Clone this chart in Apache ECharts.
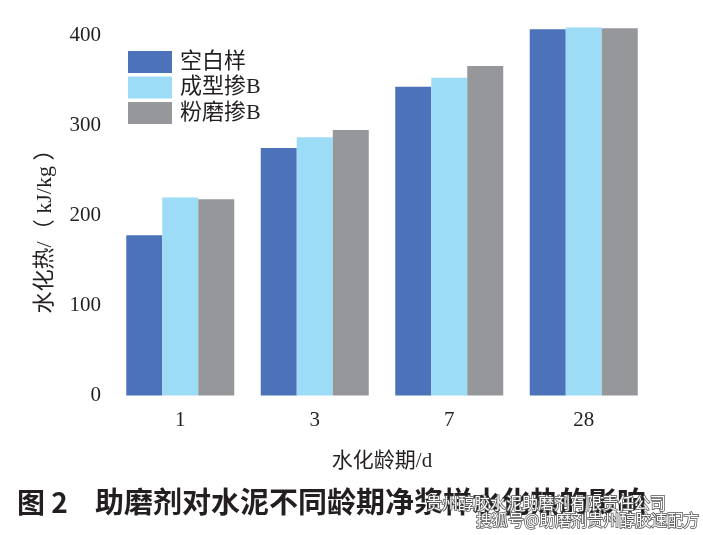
<!DOCTYPE html>
<html>
<head>
<meta charset="utf-8">
<script src="https://cdn.jsdelivr.net/npm/echarts@6/dist/echarts.min.js"></script>
<style>html,body{margin:0;padding:0;background:#fff;}#c{width:703px;height:535px;}</style>
</head>
<body>
<div id="c"></div>
<script>
const categories = ['1', '3', '7', '28'];
const seriesNames = ['空白样', '成型掺B', '粉磨掺B'];
const blank = [178, 275, 343, 407];
const formB = [220, 287, 353, 409];
const grindB = [218, 295, 366, 408];
const yTicks = [0, 100, 200, 300, 400];

const serif = "'Liberation Serif', 'Times New Roman', 'Noto Sans CJK SC', serif";
const colors = ['#4c72b9', '#9ddcf7', '#96979b'];
const chart = echarts.init(document.getElementById('c'));
chart.setOption({
  animation: false,
  backgroundColor: '#fff',
  color: colors,
  grid: { left: 113, right: 52, top: 17.5, bottom: 139.5 },
  legend: {
    orient: 'vertical', left: 128, top: 51, padding: 0,
    itemWidth: 44, itemHeight: 22, itemGap: 3.5,
    icon: 'rect',
    textStyle: { fontFamily: serif, fontSize: 22, color: '#231f20', padding: [0, 0, 0, 3] },
    data: seriesNames
  },
  xAxis: {
    type: 'category', data: categories,
    axisLine: { show: false }, axisTick: { show: false },
    axisLabel: { fontFamily: serif, fontSize: 21, color: '#231f20', margin: 14 },
    name: '水化龄期/d', nameLocation: 'middle', nameGap: 55,
    nameTextStyle: { fontFamily: serif, fontSize: 21, color: '#231f20' }
  },
  yAxis: {
    type: 'value', min: 0, max: 420, interval: 100,
    axisLine: { show: false }, axisTick: { show: false }, splitLine: { show: false },
    axisLabel: {
      fontFamily: serif, fontSize: 21, color: '#231f20', margin: 12,
      formatter: v => yTicks.includes(v) ? String(v) : ''
    }
  },
  graphic: [
    { type: 'text', x: 45, y: 226, rotation: Math.PI / 2,
      style: { text: '水化热/（ kJ/kg ）', font: "22px " + serif, fill: '#231f20', align: 'center', verticalAlign: 'middle' } },
    { type: 'text', x: 17, y: 502,
      style: { text: '图 2', font: "bold 28px 'Noto Sans CJK SC', sans-serif", fill: '#231f20', align: 'left', verticalAlign: 'middle' } },
    { type: 'text', x: 95, y: 502,
      style: { text: '助磨剂对水泥不同龄期净浆样水化热的影响', font: "bold 29px 'Noto Sans CJK SC', sans-serif", fill: '#231f20', align: 'left', verticalAlign: 'middle' } },
    { type: 'text', x: 426, y: 503,
      style: { text: '贵州醇胶水泥助磨剂有限责任公司', font: "16px 'Noto Sans CJK SC', sans-serif", fill: '#fff', stroke: '#555', lineWidth: 1.5, align: 'left', verticalAlign: 'middle' } },
    { type: 'text', x: 476, y: 520,
      style: { text: '搜狐号@助磨剂贵州醇胶速配方', font: "16px 'Noto Sans CJK SC', sans-serif", fill: '#fff', stroke: '#555', lineWidth: 1.5, align: 'left', verticalAlign: 'middle' } }
  ],
  series: [
    { name: seriesNames[0], type: 'bar', data: blank, barWidth: 36, barGap: '0%' },
    { name: seriesNames[1], type: 'bar', data: formB, barWidth: 36, barGap: '0%' },
    { name: seriesNames[2], type: 'bar', data: grindB, barWidth: 36, barGap: '0%' }
  ]
});
</script>
</body>
</html>
